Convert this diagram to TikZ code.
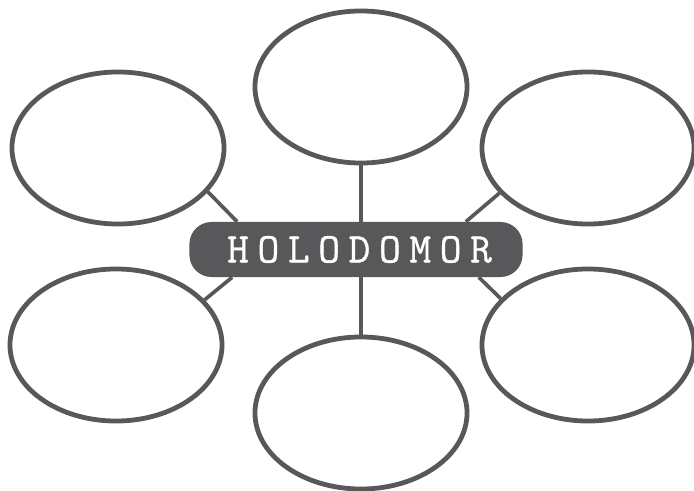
\documentclass[tikz,border=0pt]{standalone}
\usepackage{fontspec}
\usetikzlibrary{shapes.geometric,calc}

\newfontfamily\labelfont{Latin Modern Mono}[LetterSpace=20.5,FakeBold=0.8]
\definecolor{inkgray}{HTML}{58585A}

\begin{document}
\begin{tikzpicture}[x=0.025cm,y=-0.025cm,
    bubble/.style={ellipse,draw=inkgray,line width=3.4pt,fill=white,
      minimum width=5.3cm,minimum height=3.8cm,inner sep=0pt},
    link/.style={draw=inkgray,line width=2.6pt}]
    \useasboundingbox (0,0) rectangle (694,491);

    % Central label
    \node[fill=inkgray,rounded corners=0.55cm,minimum width=8.325cm,
      minimum height=1.375cm,text=white] (holodomor) at (356,249.5)
      {\fontsize{30}{30}\labelfont\hspace*{5pt}HOLODOMOR};

    % The six bubbles
    \node[bubble] (top) at (361,87) {};
    \node[bubble] (topleft) at (118,148) {};
    \node[bubble] (topright) at (588,148) {};
    \node[bubble] (botleft) at (116,345) {};
    \node[bubble] (botright) at (588,345) {};
    \node[bubble] (bottom) at (361,413) {};

    % Connectors
    \draw[link] (top.south) -- (top.south |- holodomor.north);
    \draw[link] (bottom.north) -- (bottom.north |- holodomor.south);
    \draw[link] (topleft.-26) -- ($(holodomor.north west)+(48,0)$);
    \draw[link] (botleft.27) -- ($(holodomor.south west)+(43,0)$);
    \draw[link] (topright.207) -- ($(holodomor.north east)+(-57,0)$);
    \draw[link] (botright.152) -- ($(holodomor.south east)+(-44,0)$);

\end{tikzpicture}
\end{document}
